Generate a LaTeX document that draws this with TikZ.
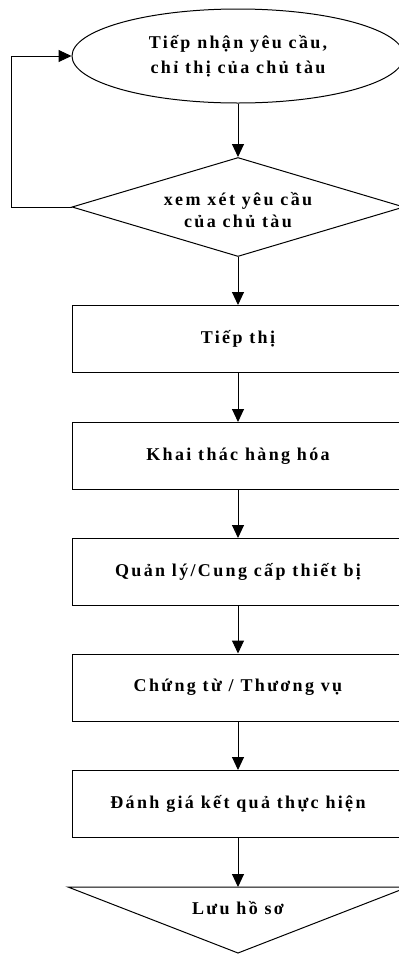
\documentclass[tikz,border=0pt]{standalone}
\usepackage{fontspec}
\setmainfont{Liberation Serif}
\usetikzlibrary{shapes.geometric,arrows.meta}
\begin{document}
\begin{tikzpicture}[x=1pt,y=-1pt,
  every node/.style={inner sep=0pt},
  txt/.style={font=\fontsize{18}{25}\selectfont\bfseries\addfontfeature{LetterSpace=13}, align=center},
  box/.style={draw, line width=1pt, rectangle, minimum width=332pt, minimum height=67pt, txt},
  arr/.style={-{Triangle[length=13pt,width=12pt]}, line width=1pt}]
\useasboundingbox (0,0) rectangle (399,954);
\clip (0,0) rectangle (399,954);
\node[ellipse, draw, line width=1pt, minimum width=332pt, minimum height=94pt, txt] (e) at (238,56) {Tiếp nhận yêu cầu,\\chỉ thị của chủ tàu};
\node[diamond, draw, line width=1pt, minimum width=332pt, minimum height=99pt] (d) at (238,207) {};
\node[txt, font=\fontsize{18}{22}\selectfont\bfseries\addfontfeature{LetterSpace=13}] (dt) at (238,210) {xem xét yêu cầu\\của chủ tàu};
\node[box] (r1) at (238,339) {Tiếp thị};
\node[box] (r2) at (238,456) {Khai thác hàng hóa};
\node[box] (r3) at (238,572) {Quản lý/Cung cấp thiết bị};
\node[box] (r4) at (238,687.5) {Chứng từ / Thương vụ};
\node[box] (r5) at (238,804) {Đánh giá kết quả thực hiện};
\coordinate (tl) at (68,887);
\coordinate (tt) at (238,887);
\coordinate (tr) at (408,887);
\coordinate (tb) at (238,953);
\draw[line width=1pt, line join=miter] (tl) -- (tr) -- (tb) -- cycle;
\node[txt] (tx) at (238,908) {Lưu hồ sơ};
\draw[arr] (e.south) -- (d.north);
\draw[arr] (d.west) -- ++(-60,0) |- (e.west);
\draw[arr] (d.south) -- (r1.north);
\draw[arr] (r1.south) -- (r2.north);
\draw[arr] (r2.south) -- (r3.north);
\draw[arr] (r3.south) -- (r4.north);
\draw[arr] (r4.south) -- (r5.north);
\draw[arr] (r5.south) -- (tt);
\end{tikzpicture}
\end{document}
